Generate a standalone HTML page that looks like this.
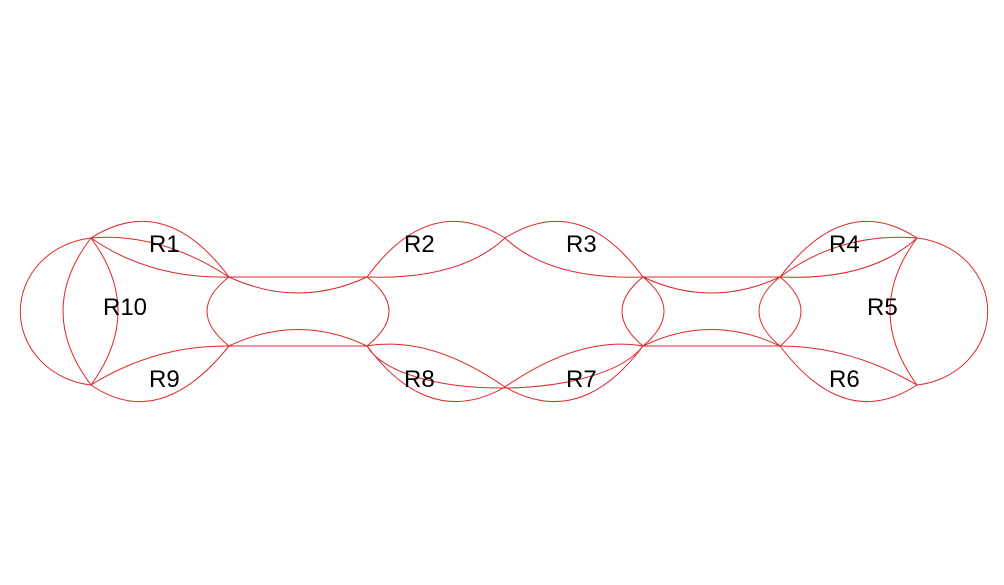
<!DOCTYPE html>
<html><head><meta charset="utf-8"><style>
html,body{margin:0;padding:0;background:#fff;}
svg{display:block;}
text{font-family:"Liberation Sans",Arial,sans-serif;font-size:24px;fill:#000;}
</style></head><body>
<svg width="1004" height="585" viewBox="0 0 1004 585" xmlns="http://www.w3.org/2000/svg">
<g fill="none" stroke="#e0262b" stroke-width="1">
<path d="M91 238 A80 74 0 0 0 91 385"/>
<path d="M91 238 Q35 311 91 385"/>
<path d="M91 238 Q145 311 91 385"/>
<path d="M91 238 Q165 191 229 277"/>
<path d="M91 238 Q160 232 229 277"/>
<path d="M91 238 Q150 279 229 277"/>
<path d="M91 385 Q160 432 229 346"/>
<path d="M91 385 Q155 345 229 346"/>
<path d="M229 277 L367 277"/>
<path d="M229 277 Q298 309 367 277"/>
<path d="M229 346 L367 346"/>
<path d="M229 346 Q298 313 367 346"/>
<path d="M229 277 Q185 311 229 346"/>
<path d="M367 277 Q411 311 367 346"/>
<path d="M367 277 Q430 191 505 238"/>
<path d="M367 277 Q460 280 505 238"/>
<path d="M505 238 Q580 191 643 277"/>
<path d="M505 238 Q550 280 643 277"/>
<path d="M367 346 Q430 335 505 387"/>
<path d="M367 346 Q430 430 505 387"/>
<path d="M367 346 C400 402 600 402 643 346"/>
<path d="M643 346 Q580 335 505 387"/>
<path d="M643 346 Q580 430 505 387"/>
<path d="M643 277 L780 277"/>
<path d="M643 277 Q711 309 780 277"/>
<path d="M643 346 L780 346"/>
<path d="M643 346 Q711 313 780 346"/>
<path d="M643 277 Q601 311 643 346"/>
<path d="M643 277 Q685 311 643 346"/>
<path d="M780 277 Q738 311 780 346"/>
<path d="M780 277 Q822 311 780 346"/>
<path d="M780 277 Q845 191 917 238"/>
<path d="M780 277 Q840 232 917 238"/>
<path d="M780 277 Q870 281 917 238"/>
<path d="M780 346 Q845 432 917 385"/>
<path d="M780 346 Q850 346 917 385"/>
<path d="M917 238 A80 74 0 0 1 917 385"/>
<path d="M917 238 Q863 311 917 385"/>
</g>
<text x="149" y="252">R1</text>
<text x="103" y="315">R10</text>
<text x="149" y="387">R9</text>
<text x="404" y="252">R2</text>
<text x="566" y="252">R3</text>
<text x="404" y="387">R8</text>
<text x="566" y="387">R7</text>
<text x="829" y="252">R4</text>
<text x="867" y="315">R5</text>
<text x="829" y="387">R6</text>
</svg>
</body></html>
